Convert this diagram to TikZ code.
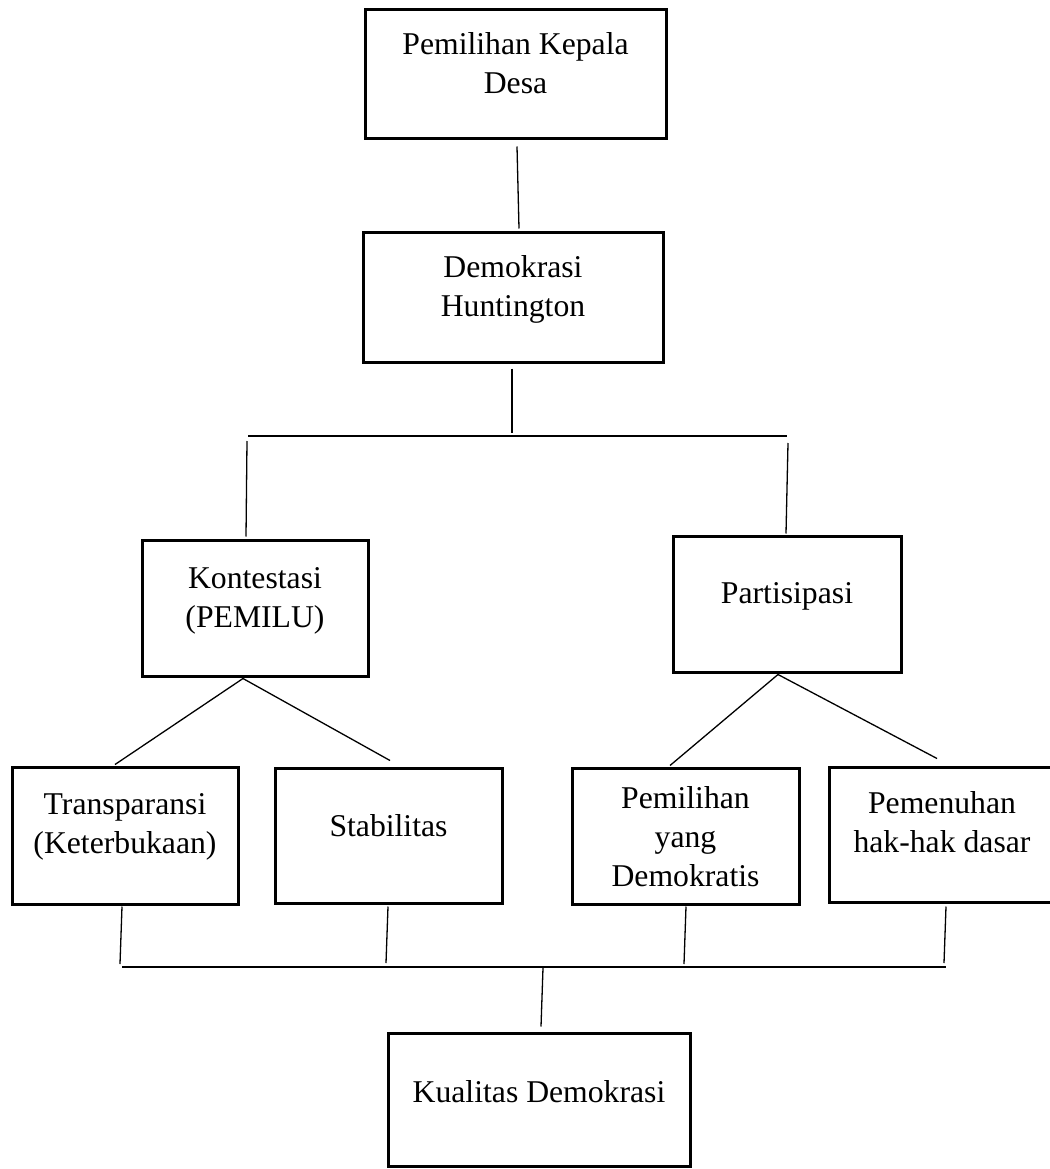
\documentclass[tikz,border=0pt]{standalone}
\usepackage{fontspec}
\setmainfont{Liberation Serif}
\usetikzlibrary{calc}
\begin{document}
\begin{tikzpicture}[x=1pt,y=-1pt,
  box/.style={draw=black, line width=3pt, rectangle, inner sep=0pt},
  lbl/.style={font=\fontsize{31.7}{39}\selectfont, align=center, anchor=base, inner sep=0pt},
  conn/.style={draw=black, line width=1.3pt}]
\useasboundingbox (0,0) rectangle (1049,1169);
% boxes
\node[box, minimum width=301pt, minimum height=129pt] (b1) at (515.5,74.5) {};
\node[box, minimum width=300pt, minimum height=130pt] (b2) at (513,297) {};
\node[box, minimum width=226pt, minimum height=136pt] (b3) at (255,608) {};
\node[box, minimum width=228pt, minimum height=136pt] (b4) at (787,604) {};
\node[box, minimum width=226pt, minimum height=137pt] (b5) at (125,835.5) {};
\node[box, minimum width=227pt, minimum height=135pt] (b6) at (388.5,835.5) {};
\node[box, minimum width=227pt, minimum height=136pt] (b7) at (685.5,836) {};
\node[box, minimum width=226pt, minimum height=135pt] (b8) at (942,834.5) {};
\node[box, minimum width=302pt, minimum height=133pt] (b9) at (539,1099.5) {};
% texts (base anchor = baseline of the last line)
\node[lbl] (t1) at (515.5,94) {Pemilihan Kepala\\Desa};
\node[lbl] (t2) at (513,316) {Demokrasi\\Huntington};
\node[lbl] (t3) at (255,627) {Kontestasi\\(PEMILU)};
\node[lbl] (t4) at (787,603) {Partisipasi};
\node[lbl] (t5) at (125,853) {Transparansi\\(Keterbukaan)};
\node[lbl] (t6) at (388.5,836) {Stabilitas};
\node[lbl] (t7) at (685.5,886) {Pemilihan\\yang\\Demokratis};
\node[lbl] (t8) at (942,852) {Pemenuhan\\hak-hak dasar};
\node[lbl] (t9) at (539,1102) {Kualitas Demokrasi};
% bus coordinates
\coordinate (bt) at (512,436);
\coordinate (bl) at (248,436);
\coordinate (br) at (787,436);
\coordinate (ql) at (122,967);
\coordinate (qr) at (946,967);
\coordinate (qm) at (543,967);
% connectors
\draw[conn] ($(b1.south)+(1.5,6)$) -- ($(b2.north)+(6,-2)$);
\draw[conn] ($(b2.south)+(-1,5)$) -- ($(bt)+(0,-3)$);
\draw[conn] (bl) -- (br);
\draw[conn] ($(bl)+(-1,5)$) -- ($(b3.north)+(-9,-2)$);
\draw[conn] ($(br)+(1,7)$) -- ($(b4.north)+(-1,-1)$);
\draw[conn] ($(b3.south)+(-12,1)$) -- ($(b5.north)+(-10,-1)$);
\draw[conn] ($(b3.south)+(-12,1)$) -- ($(b6.north)+(1.5,-6)$);
\draw[conn] ($(b4.south)+(-9,1)$) -- ($(b7.north)+(-15.5,-1)$);
\draw[conn] ($(b4.south)+(-9,1)$) -- ($(b8.north)+(-5,-7)$);
\draw[conn] ($(b5.south)+(-3,1)$) -- ($(ql)+(-2,-3)$);
\draw[conn] ($(b6.south)+(-0.5,2)$) -- ($(qm)+(-157,-4)$);
\draw[conn] ($(b7.south)+(0.5,1)$) -- ($(qm)+(141,-3)$);
\draw[conn] ($(b8.south)+(4,3)$) -- ($(qr)+(-2,-4)$);
\draw[conn] (ql) -- (qr);
\draw[conn] ($(qm)+(0,1)$) -- ($(b9.north)+(2,-5)$);
\end{tikzpicture}
\end{document}
